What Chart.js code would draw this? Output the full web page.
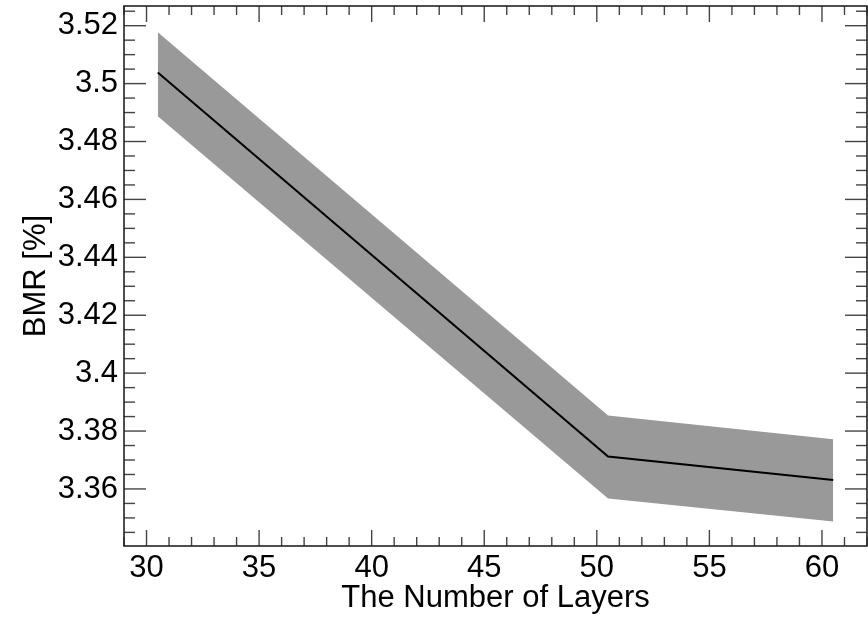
<!DOCTYPE html>
<html>
<head>
<meta charset="utf-8">
<script src="https://cdn.jsdelivr.net/npm/chart.js@4/dist/chart.umd.min.js"></script>
<style>
  html, body { margin: 0; padding: 0; background: #fff; }
  canvas { display: block; }
</style>
</head>
<body>
<canvas id="c" width="868" height="620"></canvas>
<script>
// BMR vs number of layers, mean line with a grey band
const layers = [30, 50, 60];
const bmrMean = [3.5038, 3.3712, 3.3631];
const bmrUpper = [3.5177, 3.3854, 3.3772];
const bmrLower = [3.4887, 3.3567, 3.3488];

const xMin = 28.5, xMax = 61.5;
const yMin = 3.3403, yMax = 3.5268;

const FONT = { family: '"Liberation Sans", Arial, Helvetica, sans-serif', size: 31 };

const pts = (ys) => layers.map((x, i) => ({ x, y: ys[i] }));

// inward tick marks on all four sides + the frame
const frameTicks = {
  id: 'frameTicks',
  afterDraw(chart) {
    const { ctx, chartArea: a, scales: { x, y } } = chart;
    const seg = (x1, y1, x2, y2) => { ctx.beginPath(); ctx.moveTo(x1, y1); ctx.lineTo(x2, y2); ctx.stroke(); };
    ctx.save();
    ctx.strokeStyle = '#444';
    ctx.lineWidth = 1.4;
    x.ticks.forEach((t) => {
      const px = x.getPixelForValue(t.value);
      const len = Math.round(t.value) % 5 === 0 ? 16 : 9;
      seg(px, a.bottom, px, a.bottom - len);
      seg(px, a.top, px, a.top + len);
    });
    y.ticks.forEach((t) => {
      const py = y.getPixelForValue(t.value);
      const len = Math.round(t.value * 1000) % 20 === 0 ? 22 : 11;
      seg(a.left, py, a.left + len, py);
      seg(a.right, py, a.right - len, py);
    });
    ctx.strokeStyle = '#222';
    ctx.lineWidth = 1.6;
    ctx.strokeRect(a.left, a.top, a.width, a.height);
    ctx.restore();
  },
};

new Chart(document.getElementById('c'), {
  type: 'line',
  data: {
    datasets: [
      { label: 'BMR', data: pts(bmrMean), borderColor: '#000', borderWidth: 2, pointRadius: 0, fill: false, order: 0 },
      { label: 'upper', data: pts(bmrUpper), borderWidth: 0, borderColor: 'rgba(0,0,0,0)', backgroundColor: '#999999', pointRadius: 0, fill: '+1', order: 1 },
      { label: 'lower', data: pts(bmrLower), borderWidth: 0, borderColor: 'rgba(0,0,0,0)', pointRadius: 0, fill: false, order: 1 },
    ],
  },
  options: {
    responsive: false,
    animation: false,
    layout: { padding: { top: 6, right: 1, left: 0, bottom: 0 } },
    plugins: { legend: { display: false }, tooltip: { enabled: false } },
    scales: {
      x: {
        type: 'linear', min: xMin, max: xMax,
        grid: { display: false, drawTicks: false }, border: { display: false },
        ticks: {
          stepSize: 1, includeBounds: false, autoSkip: false, maxRotation: 0, padding: 4,
          color: '#000', font: FONT,
          callback: (v) => (Math.round(v) % 5 === 0 ? String(Math.round(v)) : ''),
        },
        title: { display: true, text: 'The Number of Layers', color: '#000', font: FONT, padding: { top: 0, bottom: 3 } },
        afterFit: (s) => { s.height = 74; s.paddingLeft = 0; s.paddingRight = 0; },
      },
      y: {
        type: 'linear', min: yMin, max: yMax,
        grid: { display: false, drawTicks: false }, border: { display: false },
        ticks: {
          stepSize: 0.005, includeBounds: false, autoSkip: false, padding: 6,
          color: '#000', font: FONT,
          callback: (v) => (Math.round(v * 1000) % 20 === 0 ? String(Math.round(v * 100) / 100) : ''),
        },
        title: { display: true, text: 'BMR [%]', color: '#000', font: FONT, padding: { top: 18, bottom: 0 } },
        afterFit: (s) => { s.width = 124; s.paddingTop = 0; s.paddingBottom = 0; },
      },
    },
  },
  plugins: [frameTicks],
});
</script>
</body>
</html>
